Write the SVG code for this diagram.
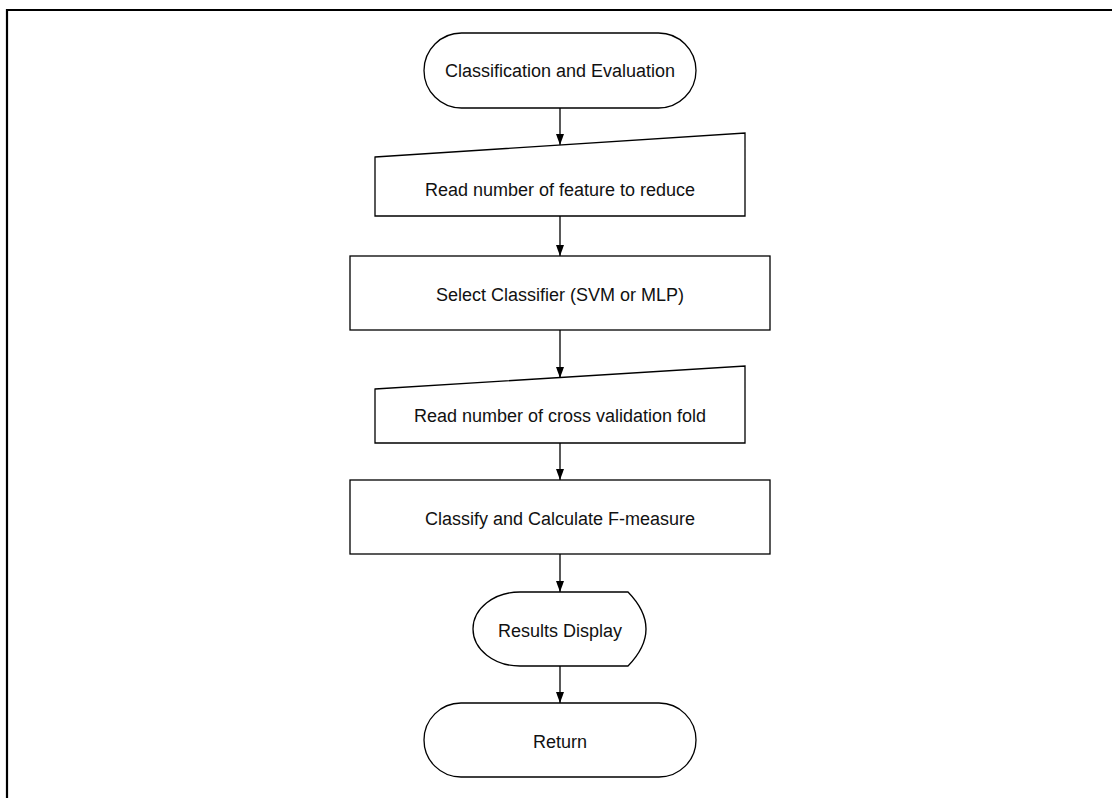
<svg xmlns="http://www.w3.org/2000/svg" width="1112" height="798" viewBox="0 0 1112 798">
  <defs>
    <marker id="arrow" markerWidth="12" markerHeight="10" refX="11" refY="5" orient="auto" markerUnits="userSpaceOnUse">
      <path d="M0,1 L11,5 L0,9 Z" fill="#000"/>
    </marker>
    <style>
      .shape { fill: #fff; stroke: #000; stroke-width: 1.3; }
      .label { font-family: "Liberation Sans", Arial, sans-serif; font-size: 18px; fill: #111; text-anchor: middle; dominant-baseline: central; }
      .conn { stroke: #000; stroke-width: 1.3; fill: none; marker-end: url(#arrow); }
    </style>
  </defs>

  <rect width="1112" height="798" fill="#fff"/>
  <!-- frame: top and left edges -->
  <path d="M7,798 V10 H1112" fill="none" stroke="#000" stroke-width="2.2"/>

  <g id="connectors">
    <line class="conn" x1="560" y1="108" x2="560" y2="145"/>
    <line class="conn" x1="560" y1="216" x2="560" y2="256"/>
    <line class="conn" x1="560" y1="330" x2="560" y2="378"/>
    <line class="conn" x1="560" y1="443" x2="560" y2="480"/>
    <line class="conn" x1="560" y1="554" x2="560" y2="592"/>
    <line class="conn" x1="560" y1="666" x2="560" y2="703"/>
  </g>

  <g id="start">
    <rect class="shape" x="424" y="33" width="272" height="75" rx="37.5" ry="37.5"/>
    <text class="label" x="560" y="71">Classification and Evaluation</text>
  </g>

  <g id="read-features">
    <path class="shape" d="M375,157 L745,133 L745,216 L375,216 Z"/>
    <text class="label" x="560" y="190">Read number of feature to reduce</text>
  </g>

  <g id="select-classifier">
    <rect class="shape" x="350" y="256" width="420" height="74"/>
    <text class="label" x="560" y="295">Select Classifier (SVM or MLP)</text>
  </g>

  <g id="read-folds">
    <path class="shape" d="M375,389 L745,366 L745,443 L375,443 Z"/>
    <text class="label" x="560" y="416">Read number of cross validation fold</text>
  </g>

  <g id="classify">
    <rect class="shape" x="350" y="480" width="420" height="74"/>
    <text class="label" x="560" y="519">Classify and Calculate F-measure</text>
  </g>

  <g id="display">
    <path class="shape" d="M520,592 L628,592 Q664,629 628,666 L520,666 A47,37 0 0 1 520,592 Z"/>
    <text class="label" x="560" y="631">Results Display</text>
  </g>

  <g id="return">
    <rect class="shape" x="424" y="703" width="272" height="74" rx="37" ry="37"/>
    <text class="label" x="560" y="742">Return</text>
  </g>
</svg>
